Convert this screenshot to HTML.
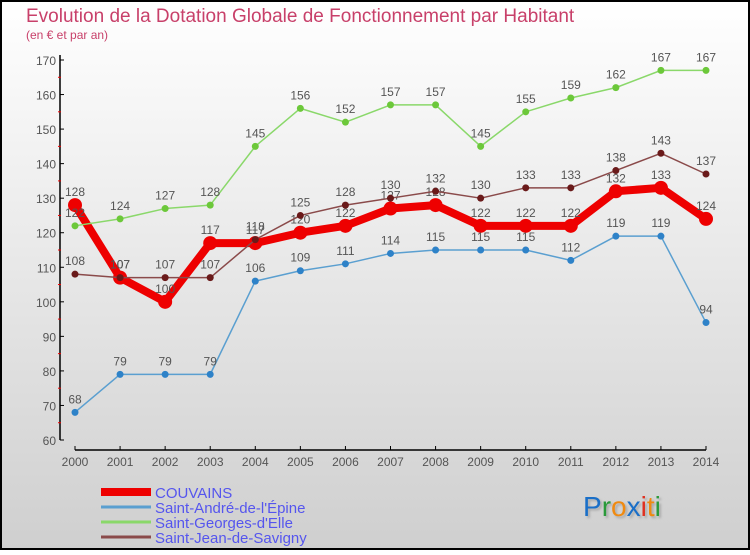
<!DOCTYPE html>
<html><head><meta charset="utf-8"><style>
body{margin:0}
#c{width:750px;height:550px;position:relative;font-family:"Liberation Sans",sans-serif;}
</style></head><body>
<div id="c">
<svg id="s" width="750" height="550" xmlns="http://www.w3.org/2000/svg">
<defs><linearGradient id="bg" x1="0" y1="0" x2="0" y2="1"><stop offset="0" stop-color="#ffffff"/><stop offset="1" stop-color="#cfcfcf"/></linearGradient></defs>
<rect x="1" y="1" width="748" height="548" fill="url(#bg)" stroke="#000" stroke-width="2"/>
<text x="26" y="22" font-size="19" fill="#c8406a">Evolution de la Dotation Globale de Fonctionnement par Habitant</text>
<text x="26" y="39" font-size="12" fill="#c8406a">(en € et par an)</text>
<g id="axes"></g><g id="marks"></g><g id="legend"></g>
<text x="583" y="516" font-size="28" style="text-shadow:2px 2px 2px #aaa"><tspan fill="#1a6fc8">P</tspan><tspan fill="#2a9a3a">r</tspan><tspan fill="#f08a10">o</tspan><tspan fill="#1a6fc8">x</tspan><tspan fill="#e03020">i</tspan><tspan fill="#f08a10">t</tspan><tspan fill="#2a9a3a">i</tspan></text>
</svg></div>
<script>
const years=[2000,2001,2002,2003,2004,2005,2006,2007,2008,2009,2010,2011,2012,2013,2014];
const couvains=[128,107,100,117,117,120,122,127,128,122,122,122,132,133,124];
const andre=[68,79,79,79,106,109,111,114,115,115,115,112,119,119,94];
const georges=[122,124,127,128,145,156,152,157,157,145,155,159,162,167,167];
const jean=[108,107,107,107,118,125,128,130,132,130,133,133,138,143,137];
const yTicks=[60,70,80,90,100,110,120,130,140,150,160,170];
const NS="http://www.w3.org/2000/svg";
const x=i=>75+i*(706-75)/(years.length-1);
const y=v=>60+(170-v)*(380/110);
function mk(t,a,p){const e=document.createElementNS(NS,t);for(const k in a)e.setAttribute(k,a[k]);(p||document.getElementById('marks')).appendChild(e);return e;}
const ax=document.getElementById('axes');
let e=mk('line',{x1:60,y1:55,x2:60,y2:440,stroke:'#000','stroke-width':1.5},ax);


e=mk('line',{x1:75,y1:450,x2:706,y2:450,stroke:'#000','stroke-width':1.5},ax);


yTicks.forEach(v=>{
 mk('line',{x1:60,y1:y(v),x2:64,y2:y(v),stroke:'#000'},ax);
 if(v<170) mk('line',{x1:58,y1:y(v+5),x2:61,y2:y(v+5),stroke:'#e00'},ax);
 const t=mk('text',{x:56,y:y(v)+5,'font-size':12,fill:'#555','text-anchor':'end'},ax);t.textContent=v;
 
 
});
years.forEach((yr,i)=>{
 mk('line',{x1:x(i),y1:446,x2:x(i),y2:450,stroke:'#000'},ax);
 const t=mk('text',{x:x(i),y:466,'font-size':12,fill:'#555','text-anchor':'middle'},ax);t.textContent=yr;
 
 
});
const series=[
 {n:'couvains',d:couvains,c:'#ee0000',w:8,r:7,dot:'#ee0000'},
 {n:'saint-andre',d:andre,c:'#5a9fd0',w:1.5,r:3.5,dot:'#2e82c8'},
 {n:'saint-georges',d:georges,c:'#8ad86a',w:1.5,r:3.5,dot:'#6cc83a'},
 {n:'saint-jean',d:jean,c:'#8a4a4a',w:1.5,r:3.5,dot:'#6a1a1a'}];
series.forEach(s=>{
 const p=mk('polyline',{points:s.d.map((v,i)=>x(i)+','+y(v)).join(' '),fill:'none',stroke:s.c,'stroke-width':s.w,'stroke-linejoin':'round'});
 
 
 s.d.forEach((v,i)=>{
  const c=mk('circle',{cx:x(i),cy:y(v),r:s.r,fill:s.dot});
  
  
  const t=mk('text',{x:x(i),y:y(v)-9,'font-size':12,fill:'#555','text-anchor':'middle'});t.textContent=v;
  
  
 });
});
const lg=document.getElementById('legend');
const names=['COUVAINS',"Saint-André-de-l'Épine","Saint-Georges-d'Elle",'Saint-Jean-de-Savigny'];
names.forEach((nm,i)=>{
 const yy=492+i*15;
 const l=mk('line',{x1:101,y1:yy,x2:151,y2:yy,stroke:series[i].c,'stroke-width':i==0?8:3},lg);
 
 
 const t=mk('text',{x:155,y:yy+6,'font-size':15,fill:'#5555ee'},lg);t.textContent=nm;
 
 
});
</script>
</body></html>
